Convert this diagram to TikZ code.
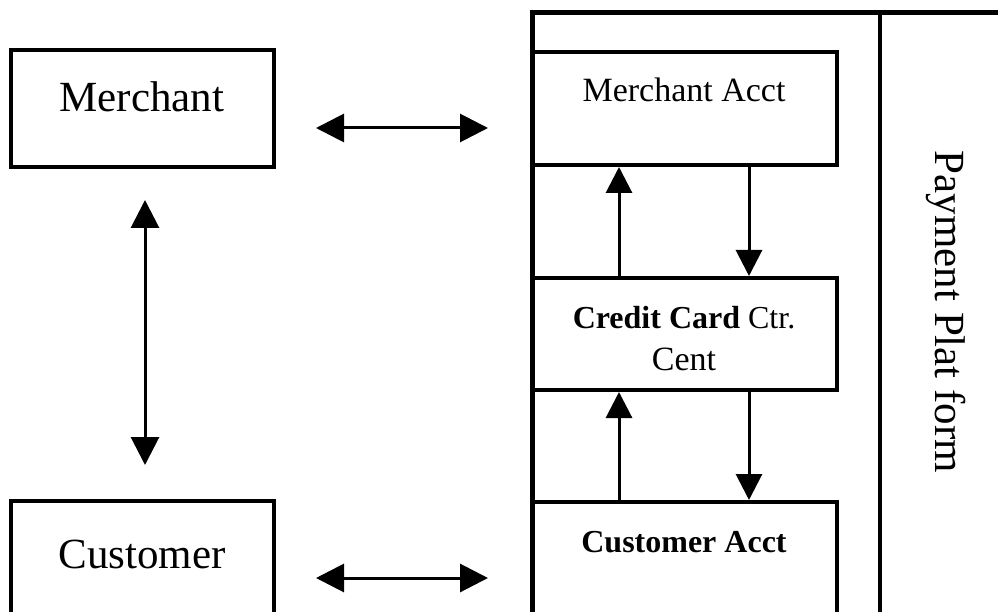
\documentclass[tikz,border=0pt]{standalone}
\usepackage{fontspec}
\setmainfont{Liberation Serif}
\usetikzlibrary{arrows.meta}
\tikzset{
  box/.style={draw, line width=4pt, rectangle, inner sep=0pt},
  big/.style={font=\fontsize{43}{50}\selectfont},
  mid/.style={font=\fontsize{34}{40}\selectfont},
  dbl/.style={line width=3pt, {Triangle[length=28pt,width=28pt]}-{Triangle[length=28pt,width=28pt]}},
  one/.style={line width=3pt, -{Triangle[length=26pt,width=26pt]}},
}
\begin{document}
\begin{tikzpicture}[x=1pt,y=-1pt]
\useasboundingbox (0,0) rectangle (998,612);
\clip (0,0) rectangle (998,612);
% left boxes
\node[box, minimum width=263pt, minimum height=117pt] (merchant) at (142.5,108.5) {};
\node[big, anchor=base] (merchantT) at (142,112) {Merchant};
\node[box, minimum width=263pt, minimum height=200pt] (customer) at (142.5,601) {};
\node[big, anchor=base] (customerT) at (142,568) {Customer};
% platform frame
\coordinate (pl) at (532,700);
\coordinate (pt) at (532,13);
\coordinate (pr) at (1010,13);
\coordinate (dt) at (880,13);
\coordinate (db) at (880,700);
\draw[line width=5pt] (pl) -- (pt) -- (pr);
\draw[line width=4pt] (dt) -- (db);
% accounts
\node[box, minimum width=305pt, minimum height=113pt] (macct) at (684.5,108.5) {};
\node[mid, anchor=base] (macctT) at (684,102) {Merchant Acct};
\node[box, minimum width=305pt, minimum height=112pt] (cc) at (684.5,334) {};
\node[mid, anchor=base, font=\fontsize{32}{38}\selectfont] (ccT) at (684,328) {\textbf{Credit Card} Ctr.};
\node[mid, anchor=base] (ccT2) at (684,370) {Cent};
\node[box, minimum width=305pt, minimum height=200pt] (cacct) at (684.5,602) {};
\node[mid, anchor=base, font=\fontsize{32}{38}\selectfont] (cacctT) at (684,552) {\textbf{Customer Acct}};
% platform label
\node[big, anchor=base, rotate=-90] (plat) at (935,312) {Payment Plat form};
% connectors
\coordinate (ma1) at (316,128);
\coordinate (ma2) at (488,128);
\draw[dbl] (ma1) -- (ma2);
\coordinate (ca1) at (316,578);
\coordinate (ca2) at (488,578);
\draw[dbl] (ca1) -- (ca2);
\coordinate (v1) at (145,200);
\coordinate (v2) at (145,465);
\draw[dbl] (v1) -- (v2);
\draw[one] (cc.north -| 619,0) -- (macct.south -| 619,0);
\draw[one] (macct.south -| 749,0) -- (cc.north -| 749,0);
\draw[one] (cacct.north -| 619,0) -- (cc.south -| 619,0);
\draw[one] (cc.south -| 749,0) -- (cacct.north -| 749,0);
\end{tikzpicture}
\end{document}
